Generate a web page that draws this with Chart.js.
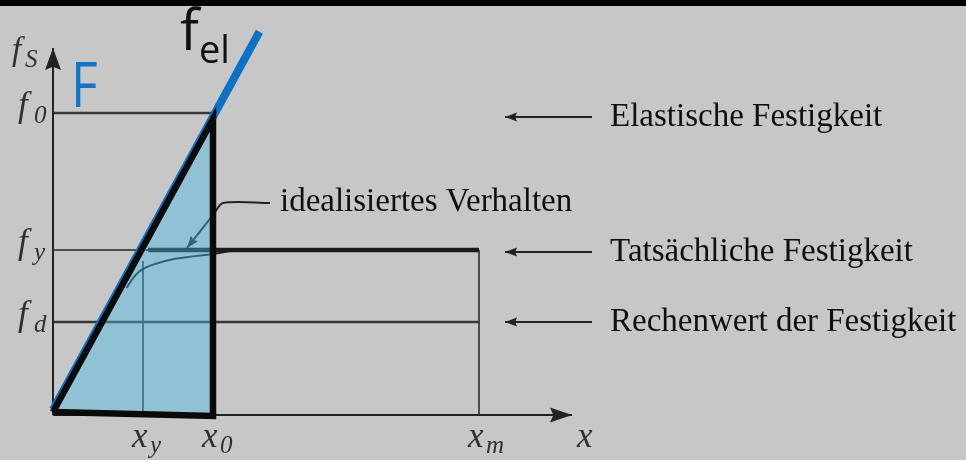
<!DOCTYPE html>
<html lang="de">
<head>
<meta charset="UTF-8" />
<title>Festigkeit</title>
<script src="https://cdn.jsdelivr.net/npm/chart.js"></script>
<style>
  html, body { margin: 0; padding: 0; background: #c7c7c7; }
</style>
</head>
<body>
<canvas id="chart" width="966" height="460"></canvas>
<script>
  // x in units of x0, y in units of f0
  const xTickValues = [0.5625, 1.0, 2.6625];
  const xTickSubs = ['y', '0', 'm'];
  const yTickValues = [1.0, 0.546, 0.308];
  const yTickSubs = ['0', 'y', 'd'];
  const axisEnds = [3.244, 1.215];
  const elasticLine = [[0, 0.018], [1.29, 1.269]];
  const idealOutline = [[0, 0.01], [1, 0.98], [1, -0.003], [0, 0.01]];
  const idealFill = [[0, 0], [1, 0.98]];
  const realCurve = [[0.46, 0.42], [0.51, 0.46], [0.56, 0.483], [0.6375, 0.5], [0.7625, 0.517], [0.8875, 0.526], [1, 0.533], [1.1375, 0.546]];
  const leader = [[1.356, 0.702], [1.0625, 0.702], [1.006, 0.666], [0.8375, 0.553]];
  const yieldStart = 0.594;
  const xyTop = 0.51;
  const strengthNames = ['Elastische Festigkeit', 'Tatsächliche Festigkeit', 'Rechenwert der Festigkeit'];
  const strengthArrowY = [0.987, 0.54, 0.308];
  const strengthArrowX = [3.369, 2.825];

  const [xy, x0, xm] = xTickValues;
  const [f0, fy, fd] = yTickValues;
  const pts = a => a.map(([x, y]) => ({ x, y }));

  const ink = '#232323';
  const thin = (data, w, extra) => Object.assign({
    data: pts(data), borderColor: ink, borderWidth: w, pointRadius: 0, order: 10, clip: false
  }, extra || {});

  const datasets = [
    thin([[0, 0], [0, axisEnds[1]]], 2, { arrow: [22, 8] }),
    thin([[0, 0], [axisEnds[0], 0]], 2, { arrow: [22, 7.5] }),
    thin([[0, f0], [x0, f0]], 2.5, { borderColor: '#383838' }),
    thin([[0, fy], [yieldStart, fy]], 1.5),
    thin([[yieldStart, fy], [xm, fy]], 4.5, { borderColor: '#1a1a1a' }),
    thin([[0, fd], [xm, fd]], 2.5, { borderColor: '#383838' }),
    thin([[xm, 0], [xm, fy]], 1.5),
    thin([[xy, 0], [xy, xyTop]], 1.5),
    thin(realCurve, 2, { tension: 0.4 }),
    thin(leader, 2, { tension: 0.3, arrow: [12, 4.5] })
  ];
  strengthArrowY.forEach(y => {
    datasets.push(thin([[strengthArrowX[0], y], [strengthArrowX[1], y]], 2, { arrow: [12, 4.5] }));
  });
  datasets.push({
    data: pts(idealFill), fill: 'origin', backgroundColor: 'rgba(70,185,230,0.42)',
    borderWidth: 0, pointRadius: 0, order: 5, clip: false
  });
  datasets.push({
    data: pts(elasticLine), borderColor: '#0d72c6', borderWidth: 8, borderCapStyle: 'butt',
    pointRadius: 0, order: 3, clip: false
  });
  datasets.push({
    data: pts(idealOutline), borderColor: '#0a0a0a', borderWidth: 6.5, borderJoinStyle: 'miter',
    pointRadius: 0, order: 1, clip: false
  });

  // page background and the dark strip at the top
  const backdrop = {
    id: 'backdrop',
    beforeDraw(chart) {
      const ctx = chart.ctx;
      ctx.save();
      ctx.fillStyle = '#c7c7c7';
      ctx.fillRect(0, 0, chart.width, chart.height);
      ctx.fillStyle = '#000';
      ctx.fillRect(0, 0, chart.width, 6);
      ctx.restore();
    }
  };

  // arrowhead at the last point of datasets that have "arrow: [length, halfWidth]"
  const arrowHeads = {
    id: 'arrowHeads',
    afterDatasetDraw(chart, args) {
      const ds = chart.data.datasets[args.index];
      if (!ds.arrow) return;
      const p = args.meta.data;
      const a = p[p.length - 2], b = p[p.length - 1];
      const ang = Math.atan2(b.y - a.y, b.x - a.x);
      const [len, half] = ds.arrow;
      const ctx = chart.ctx;
      ctx.save();
      ctx.translate(b.x, b.y);
      ctx.rotate(ang);
      ctx.fillStyle = ds.borderColor;
      ctx.beginPath();
      ctx.moveTo(0, 0);
      ctx.lineTo(-len, -half);
      ctx.lineTo(-len * 0.85, 0);
      ctx.lineTo(-len, half);
      ctx.closePath();
      ctx.fill();
      ctx.restore();
    }
  };

  function put(ctx, s, x, y, font, color, sx) {
    ctx.save();
    ctx.font = font;
    ctx.fillStyle = color;
    ctx.textAlign = 'left';
    ctx.textBaseline = 'alphabetic';
    ctx.translate(x, y);
    ctx.scale(sx || 1, 1);
    ctx.fillText(s, 0, 0);
    ctx.restore();
  }

  const labels = {
    id: 'labels',
    afterDraw(chart) {
      const ctx = chart.ctx;
      const xs = chart.scales.x, ys = chart.scales.y;
      const math = 'italic 35px "Liberation Serif"';
      const sub = 'italic 25px "Liberation Serif"';
      const grey = '#303030';
      const left = xs.getPixelForValue(0);

      yTickValues.forEach((v, i) => {
        const py = ys.getPixelForValue(v);
        put(ctx, 'f', left - 35, py + 3, math, grey);
        put(ctx, yTickSubs[i], left - 19, py + 10, sub, grey);
      });
      put(ctx, 'f', left - 41, 60, 'italic 33px "Liberation Serif"', grey);
      put(ctx, 'S', left - 28, 67, sub, grey);

      const base = ys.getPixelForValue(0);
      xTickValues.forEach((v, i) => {
        const px = xs.getPixelForValue(v);
        put(ctx, 'x', px - 11, base + 32, math, grey);
        put(ctx, xTickSubs[i], px + 7, base + 38, sub, grey);
      });
      put(ctx, 'x', xs.getPixelForValue(axisEnds[0]) + 5, base + 32, math, grey);

      const serif = '33px "Liberation Serif"';
      strengthNames.forEach((s, i) => {
        const py = ys.getPixelForValue(strengthArrowY[i]);
        put(ctx, s, xs.getPixelForValue(strengthArrowX[0]) + 18, py + 9, serif, '#0f0f0f');
      });
      const lp = leader[0];
      put(ctx, 'idealisiertes Verhalten', xs.getPixelForValue(lp[0]) + 10,
        ys.getPixelForValue(lp[1]) + 8, serif, '#0f0f0f');

      put(ctx, 'F', 71, 107, '63px "Open Sans"', '#1474c8', 0.82);
      put(ctx, 'f', 180, 50, '56px "Open Sans"', '#111');
      put(ctx, 'el', 199, 63, '38px "Open Sans"', '#111');
    }
  };

  new Chart(document.getElementById('chart'), {
    type: 'line',
    data: { datasets },
    options: {
      responsive: false,
      animation: false,
      layout: { padding: { left: 53, right: 1, top: 0, bottom: 45 } },
      scales: {
        x: { type: 'linear', min: 0, max: 5.7, display: false },
        y: { type: 'linear', min: 0, max: 1.374, display: false }
      },
      plugins: { legend: { display: false }, tooltip: { enabled: false } }
    },
    plugins: [backdrop, arrowHeads, labels]
  });
</script>
</body>
</html>
